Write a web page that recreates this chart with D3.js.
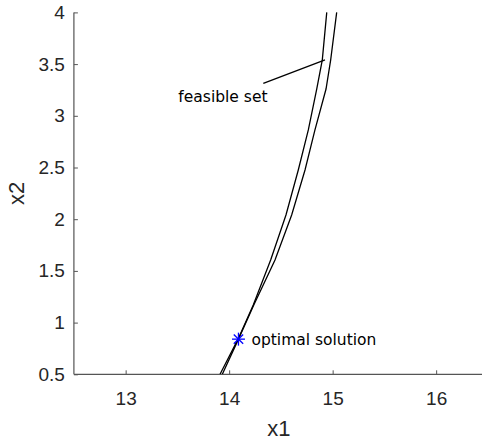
<!DOCTYPE html>
<html>
<head>
<meta charset="utf-8">
<script src="https://cdn.jsdelivr.net/npm/d3@7"></script>
<style>
  html, body { margin: 0; padding: 0; background: #fff; }
  svg { display: block; }
</style>
</head>
<body>
<svg id="chart" width="482" height="441"></svg>
<script>
// ---- data ----
const curveAx = [13.912, 14.086, 14.233, 14.401, 14.549, 14.668, 14.765, 14.846, 14.900, 14.943];
const curveAy = [0.50, 0.84, 1.17, 1.605, 2.041, 2.476, 2.863, 3.259, 3.541, 4.00];
const curveBx = [13.934, 14.090, 14.238, 14.443, 14.604, 14.733, 14.829, 14.936, 14.981, 15.039];
const curveBy = [0.50, 0.84, 1.17, 1.605, 2.041, 2.476, 2.863, 3.259, 3.541, 4.00];
const optimalX = [14.09];
const optimalY = [0.84];
const xTicks = [13, 14, 15, 16];
const yTicks = [0.5, 1, 1.5, 2, 2.5, 3, 3.5, 4];
const xDomain = [12.5, 16.5];
const yDomain = [0.5, 4];

// ---- layout ----
const svg = d3.select("#chart");
const mLeft = 73.9, mRight = 487.9, mTop = 12.4, mBottom = 374.3;
const x = d3.scaleLinear().domain(xDomain).range([mLeft, mRight]);
const y = d3.scaleLinear().domain(yDomain).range([mBottom, mTop]);
const axisColor = "#555";
const textColor = "#262626";
const tickFont = "Liberation Sans, Arial, sans-serif";

svg.append("defs").append("clipPath").attr("id", "clip")
  .append("rect").attr("x", mLeft).attr("y", mTop - 2).attr("width", mRight - mLeft).attr("height", mBottom - mTop + 2);

// axes
const xAxis = d3.axisBottom(x).tickValues(xTicks).tickSize(-4).tickPadding(17).tickFormat(d3.format("d"));
const yAxis = d3.axisLeft(y).tickValues(yTicks).tickSize(-4).tickPadding(9).tickFormat(d => String(d));

const gx = svg.append("g").attr("transform", `translate(0,${mBottom})`).call(xAxis);
const gy = svg.append("g").attr("transform", `translate(${mLeft},0)`).call(yAxis);
[gx, gy].forEach(g => {
  g.select(".domain").attr("stroke", axisColor).attr("stroke-width", 1.2);
  g.selectAll(".tick line").attr("stroke", axisColor).attr("stroke-width", 1);
  g.selectAll(".tick text").attr("fill", textColor).attr("font-family", tickFont).attr("font-size", 19);
});
gy.select(".domain").attr("d", `M0,${mTop}V${mBottom}`);
gx.select(".domain").attr("d", `M${mLeft},0H${mRight}`);

// axis labels
svg.append("text").attr("x", (mLeft + mRight) / 2 - 2).attr("y", 436)
  .attr("text-anchor", "middle").attr("font-family", tickFont).attr("font-size", 22)
  .attr("fill", textColor).text("x1");
svg.append("text").attr("transform", `translate(24,${(mTop + mBottom) / 2}) rotate(-90)`)
  .attr("text-anchor", "middle").attr("font-family", tickFont).attr("font-size", 22)
  .attr("fill", textColor).text("x2");

// curves
const plot = svg.append("g").attr("clip-path", "url(#clip)");
const line = d3.line().x(d => x(d[0])).y(d => y(d[1]));
const ptsA = curveAx.map((v, i) => [v, curveAy[i]]);
const ptsB = curveBx.map((v, i) => [v, curveBy[i]]);
[ptsA, ptsB].forEach(pts => {
  plot.append("path").attr("d", line(pts)).attr("fill", "none")
    .attr("stroke", "#000").attr("stroke-width", 1.3);
});

// optimal point: asterisk marker
const ox = x(optimalX[0]), oy = y(optimalY[0]);
const r = 6.5, rd = r * 0.72;
const star = svg.append("g").attr("stroke", "#0000ff").attr("stroke-width", 1.3);
star.append("line").attr("x1", ox - r).attr("x2", ox + r).attr("y1", oy).attr("y2", oy);
star.append("line").attr("x1", ox).attr("x2", ox).attr("y1", oy - r).attr("y2", oy + r);
star.append("line").attr("x1", ox - rd).attr("x2", ox + rd).attr("y1", oy - rd).attr("y2", oy + rd);
star.append("line").attr("x1", ox - rd).attr("x2", ox + rd).attr("y1", oy + rd).attr("y2", oy - rd);

// annotations
const annFont = "DejaVu Sans, sans-serif";
svg.append("text").attr("x", ox + 13).attr("y", oy + 6)
  .attr("font-family", annFont).attr("font-size", 15.5).attr("fill", "#000").text("optimal solution");

svg.append("text").attr("x", x(13.509)).attr("y", y(3.129))
  .attr("font-family", annFont).attr("font-size", 15.5).attr("fill", "#000").text("feasible set");
svg.append("line")
  .attr("x1", x(14.33)).attr("y1", y(3.314))
  .attr("x2", x(14.926)).attr("y2", y(3.54))
  .attr("stroke", "#000").attr("stroke-width", 1.3);
</script>
</body>
</html>
